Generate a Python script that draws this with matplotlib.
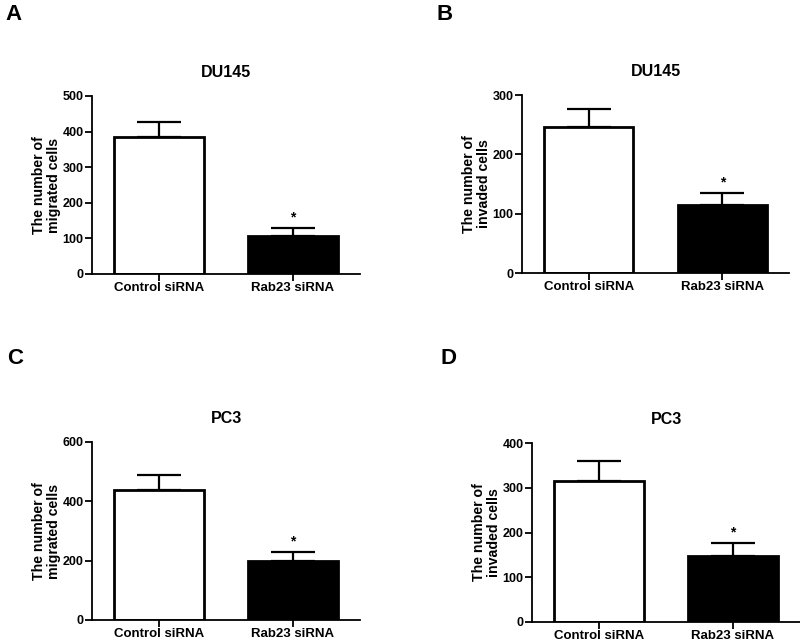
import numpy as np
import matplotlib
matplotlib.use('Agg')
from matplotlib import pyplot as plt

plt.rcParams['font.family'] = ['Liberation Sans', 'DejaVu Sans']
plt.rcParams['font.weight'] = 'bold'

groups = ['Control siRNA', 'Rab23 siRNA']

# A: DU145 migration, B: DU145 invasion, C: PC3 migration, D: PC3 invasion
mig_du145 = [385, 107]
mig_du145_err = [42, 23]
inv_du145 = [246, 114]
inv_du145_err = [30, 20]
mig_pc3 = [438, 199]
mig_pc3_err = [50, 30]
inv_pc3 = [315, 147]
inv_pc3_err = [45, 30]

letters = ['A', 'B', 'C', 'D']
titles = ['DU145', 'DU145', 'PC3', 'PC3']
ylabels = ['The number of\nmigrated cells', 'The number of\ninvaded cells',
           'The number of\nmigrated cells', 'The number of\ninvaded cells']
ymax = [500, 300, 600, 400]
ystep = [100, 100, 200, 100]

fig = plt.figure(figsize=(8, 6.41), dpi=100)

# axes boxes in pixels: left, top, right, bottom
boxes = [(92, 96, 360, 274), (522, 95, 789, 273),
         (92, 442, 360, 620), (532, 443, 800, 622)]
letter_pos = [(5, 15), (436, 14), (7, 358), (440, 358)]

data = [(mig_du145, mig_du145_err), (inv_du145, inv_du145_err),
        (mig_pc3, mig_pc3_err), (inv_pc3, inv_pc3_err)]

W, H = 800., 641.
x = np.arange(len(groups))
for i in range(4):
    l, t, r, b = boxes[i]
    ax = fig.add_axes([l / W, (H - b) / H, (r - l) / W, (b - t) / H])
    vals, errs = data[i]
    ax.bar(x, vals, width=0.67, color=['white', 'black'], edgecolor='black',
           linewidth=2, zorder=2)
    ax.errorbar(x, vals, yerr=[[0, 0], errs], fmt='none', ecolor='black',
                elinewidth=1.6, capsize=16, capthick=1.6, zorder=1)
    ax.text(x[1], vals[1] + errs[1] + ymax[i] * 0.02, '*', ha='center',
            va='bottom', fontsize=10, fontweight='bold')
    ax.set_xlim(-0.5, 1.5)
    ax.set_ylim(0, ymax[i])
    ax.set_yticks(np.arange(0, ymax[i] + 1, ystep[i]))
    ax.set_xticks(x)
    ax.set_xticklabels(groups, fontsize=9.5, fontweight='bold')
    ax.tick_params(axis='y', labelsize=9, width=1.3, length=5, pad=1)
    ax.tick_params(axis='x', width=1.3, length=5, pad=1)
    for s in ['top', 'right']:
        ax.spines[s].set_visible(False)
    for s in ['left', 'bottom']:
        ax.spines[s].set_linewidth(1.3)
    ax.set_ylabel(ylabels[i], fontsize=10.2, fontweight='bold', labelpad=1,
                  linespacing=1.1)
    ax.set_title(titles[i], fontsize=11.5, fontweight='bold', pad=14)
    fig.text(letter_pos[i][0] / W, 1 - letter_pos[i][1] / H, letters[i],
             fontsize=16, fontweight='bold', va='center')

fig.savefig('out.png', dpi=100)
